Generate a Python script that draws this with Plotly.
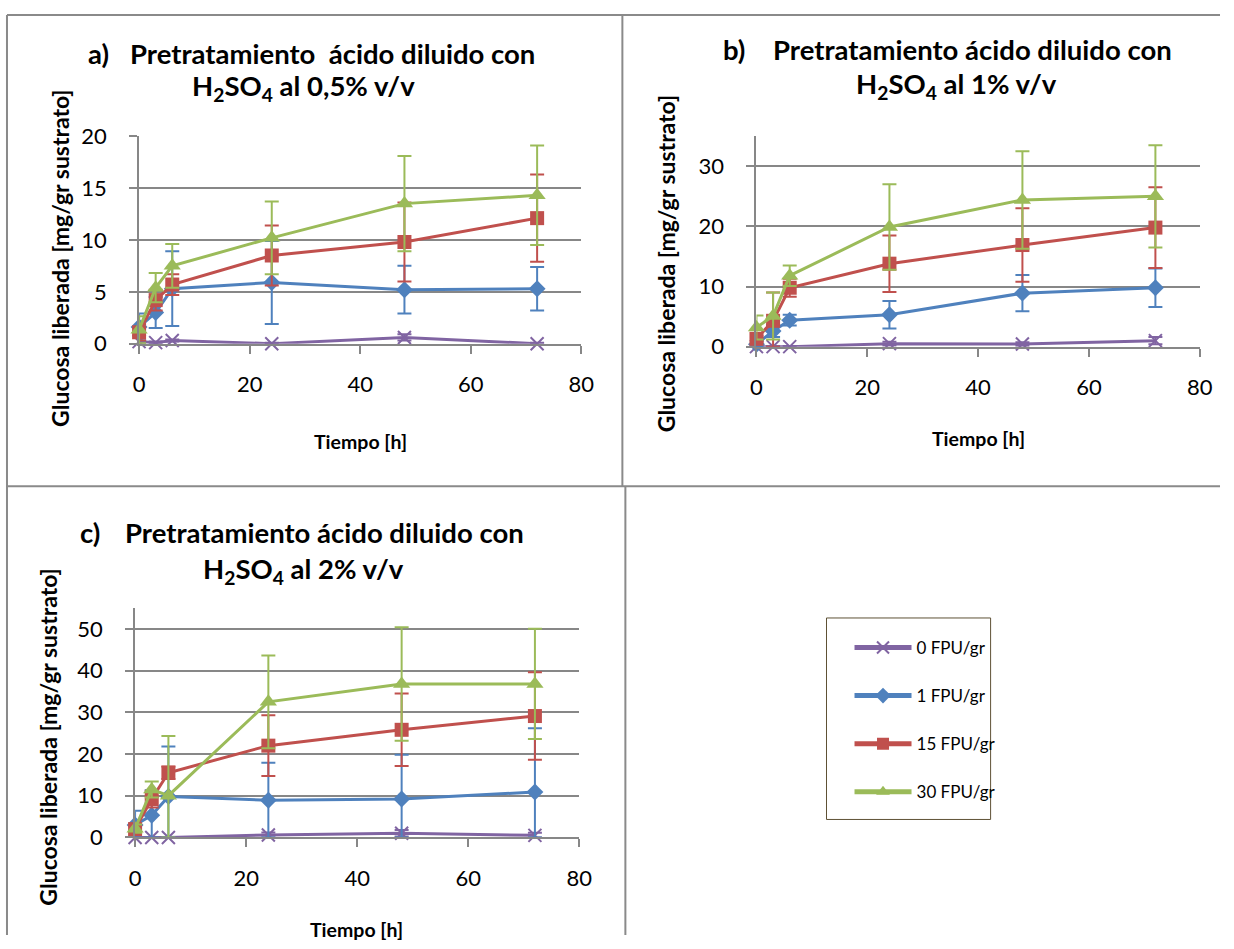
import plotly.graph_objects as go

W, H = 1234, 949
# observed placement of the rendered figure inside the photographed page
OX, OY, SX, SY = 8.0, 12.5, 0.984, 0.974

times = [0, 3, 6, 24, 48, 72]
series_names = ["0 FPU/gr", "1 FPU/gr", "15 FPU/gr", "30 FPU/gr"]

# Panel a) H2SO4 0,5% v/v
a_0 = [0.2, 0.1, 0.3, 0.0, 0.6, 0.0]
a_0_err = [0.1, 0.1, 0.1, 0.1, 0.3, 0.1]
a_1 = [1.6, 3.0, 5.3, 5.9, 5.2, 5.3]
a_1_err = [1.3, 1.5, 3.6, 4.0, 2.3, 2.1]
a_15 = [1.1, 4.2, 5.7, 8.5, 9.8, 12.1]
a_15_err = [0.8, 1.0, 1.0, 2.9, 3.8, 4.2]
a_30 = [1.35, 5.4, 7.5, 10.2, 13.5, 14.3]
a_30_err = [1.3, 1.4, 2.1, 3.5, 4.6, 4.8]

# Panel b) H2SO4 1% v/v
b_0 = [0.0, 0.0, 0.0, 0.5, 0.45, 1.0]
b_0_err = [0.1, 0.1, 0.1, 0.3, 0.3, 0.6]
b_1 = [0.4, 2.6, 4.4, 5.3, 8.9, 9.8]
b_1_err = [0.5, 1.0, 0.9, 2.3, 3.0, 3.2]
b_15 = [1.3, 4.3, 9.8, 13.8, 16.9, 19.8]
b_15_err = [0.5, 4.7, 1.5, 4.7, 6.1, 6.7]
b_30 = [3.2, 5.1, 11.8, 19.9, 24.4, 25.0]
b_30_err = [2.0, 3.9, 1.7, 7.1, 8.1, 8.5]

# Panel c) H2SO4 2% v/v
c_0 = [0.0, 0.0, 0.0, 0.6, 1.0, 0.5]
c_0_err = [0.1, 0.1, 0.1, 0.6, 0.8, 0.6]
c_1 = [3.0, 5.3, 9.8, 8.9, 9.2, 10.9]
c_1_err = [3.4, 6.0, 12.0, 9.0, 10.6, 15.3]
c_15 = [2.0, 9.2, 15.5, 22.0, 25.8, 29.1]
c_15_err = [1.0, 2.0, 1.5, 7.3, 8.7, 10.5]
c_30 = [2.1, 11.5, 10.0, 32.5, 36.8, 36.8]
c_30_err = [1.0, 1.9, 14.3, 11.1, 13.6, 13.2]

x_ticks = [0, 20, 40, 60, 80]
a_yticks = [0, 5, 10, 15, 20]
b_yticks = [0, 10, 20, 30]
c_yticks = [0, 10, 20, 30, 40, 50]

colors = ["#8064A2", "#4F81BD", "#C0504D", "#9BBB59"]
symbols = ["x-thin-open", "diamond", "square", "triangle-up"]
msizes = [13, 13, 14, 15]

FONT = "Lato"
GRAY = "#878787"

panels = [
    ("x", "y", [a_0, a_1, a_15, a_30], [a_0_err, a_1_err, a_15_err, a_30_err]),
    ("x2", "y2", [b_0, b_1, b_15, b_30], [b_0_err, b_1_err, b_15_err, b_30_err]),
    ("x3", "y3", [c_0, c_1, c_15, c_30], [c_0_err, c_1_err, c_15_err, c_30_err]),
]

fig = go.Figure()
for pi, (xa, ya, ys, errs) in enumerate(panels):
    for si in range(4):
        vals = ys[si]
        e = errs[si]
        eminus = [min(ev, v) for ev, v in zip(e, vals)]
        mk = dict(symbol=symbols[si], size=msizes[si], color=colors[si])
        if si == 0:
            mk["line"] = dict(color=colors[si], width=2)
        fig.add_trace(go.Scatter(
            x=times, y=vals, xaxis=xa, yaxis=ya,
            mode="lines+markers",
            name=series_names[si],
            legendgroup=series_names[si],
            showlegend=(pi == 0),
            line=dict(color=colors[si], width=3),
            marker=mk,
            cliponaxis=False,
            error_y=dict(type="data", symmetric=False, array=e, arrayminus=eminus,
                         color=colors[si], thickness=2, width=7, visible=True),
        ))


def px(x):
    p = (x - OX) / SX
    return min(max(p, 1.0), W - 1.0) / W


def py(y):
    p = (y - OY) / SY
    return 1 - min(max(p, 1.0), H - 1.0) / H


axis_common = dict(
    showline=True, linecolor=GRAY, linewidth=2,
    ticks="outside", ticklen=8, tickwidth=2, tickcolor=GRAY,
    tickfont=dict(family=FONT, size=22, color="#000000"),
    zeroline=False, fixedrange=True,
)

layout_axes = {}
specs = [
    ("xaxis", "yaxis", "y", "x", (141, 583), (135, 343), [0, 20], a_yticks),
    ("xaxis2", "yaxis2", "y2", "x2", (758, 1201), (135, 346), [0, 35], b_yticks),
    ("xaxis3", "yaxis3", "y3", "x3", (137, 581), (608, 838), [0, 55], c_yticks),
]
for xk, yk, anchor_y, anchor_x, (x0, x1), (y0, y1), yr, yt in specs:
    layout_axes[xk] = dict(axis_common, domain=[px(x0), px(x1)], range=[0, 80],
                           tickvals=x_ticks, anchor=anchor_y, showgrid=False,
                           ticklabelstandoff=12)
    layout_axes[yk] = dict(axis_common, domain=[py(y1), py(y0)], range=yr,
                           tickvals=yt, anchor=anchor_x, showgrid=True,
                           gridcolor=GRAY, gridwidth=2, ticklabelstandoff=18)

fig.update_layout(**layout_axes)

# Frame lines (reference pixel positions)
frame = [
    (4, 9, 1234, 9), (4, 9, 4, 949), (624, 9, 624, 486),
    (4, 486, 1234, 486), (627, 486, 627, 949),
]
shapes = []
for x0, y0, x1, y1 in frame:
    shapes.append(dict(type="line", xref="paper", yref="paper",
                       x0=px(x0), y0=py(y0), x1=px(x1), y1=py(y1),
                       line=dict(color="#8a8a8a", width=2)))
# legend box
shapes.append(dict(type="rect", xref="paper", yref="paper",
                   x0=px(828), y0=py(820), x1=px(992), y1=py(618),
                   line=dict(color="#5e5135", width=1), fillcolor="white",
                   layer="below"))

ann = []


def text(x, y, t, size, xanchor="center", angle=0, bold=True):
    ann.append(dict(x=px(x), y=py(y), xref="paper", yref="paper", text=t,
                    showarrow=False, xanchor=xanchor, yanchor="middle",
                    textangle=angle,
                    font=dict(family=FONT, size=size, color="#000000",
                              weight="bold" if bold else "normal")))


TS = 27.5
text(88, 52, "a)", TS, "left")
text(130, 52, "Pretratamiento\u00a0 ácido diluido con", TS, "left")
text(305, 86, "H<sub>2</sub>SO<sub>4</sub> al 0,5% v/v", TS)
text(723, 48, "b)", TS, "left")
text(773, 48, "Pretratamiento ácido diluido con", TS, "left")
text(958, 84, "H<sub>2</sub>SO<sub>4</sub> al 1% v/v", TS)
text(80, 532, "c)", TS, "left")
text(125, 532, "Pretratamiento ácido diluido con", TS, "left")
text(305, 570, "H<sub>2</sub>SO<sub>4</sub> al 2% v/v", TS)

ytitle = "Glucosa liberada [mg/gr sustrato]"
text(362, 441, "Tiempo [h]", 19.5)
text(980, 438, "Tiempo [h]", 19.5)
text(358, 930, "Tiempo [h]", 19.5)
text(62, 258, ytitle, 23, angle=-90)
text(667, 263, ytitle, 23, angle=-90)
text(50, 738, ytitle, 23, angle=-90)

fig.update_layout(
    width=W, height=H,
    margin=dict(l=0, r=0, t=0, b=0),
    paper_bgcolor="white", plot_bgcolor="white",
    shapes=shapes, annotations=ann,
    showlegend=True,
    legend=dict(x=px(851), y=py(630), xanchor="left", yanchor="top",
                borderwidth=0, bgcolor="rgba(0,0,0,0)",
                font=dict(family=FONT, size=17, color="#000000"),
                traceorder="grouped", tracegroupgap=23, itemwidth=57,
                itemsizing="constant"),
)

fig.write_html("out.html")
